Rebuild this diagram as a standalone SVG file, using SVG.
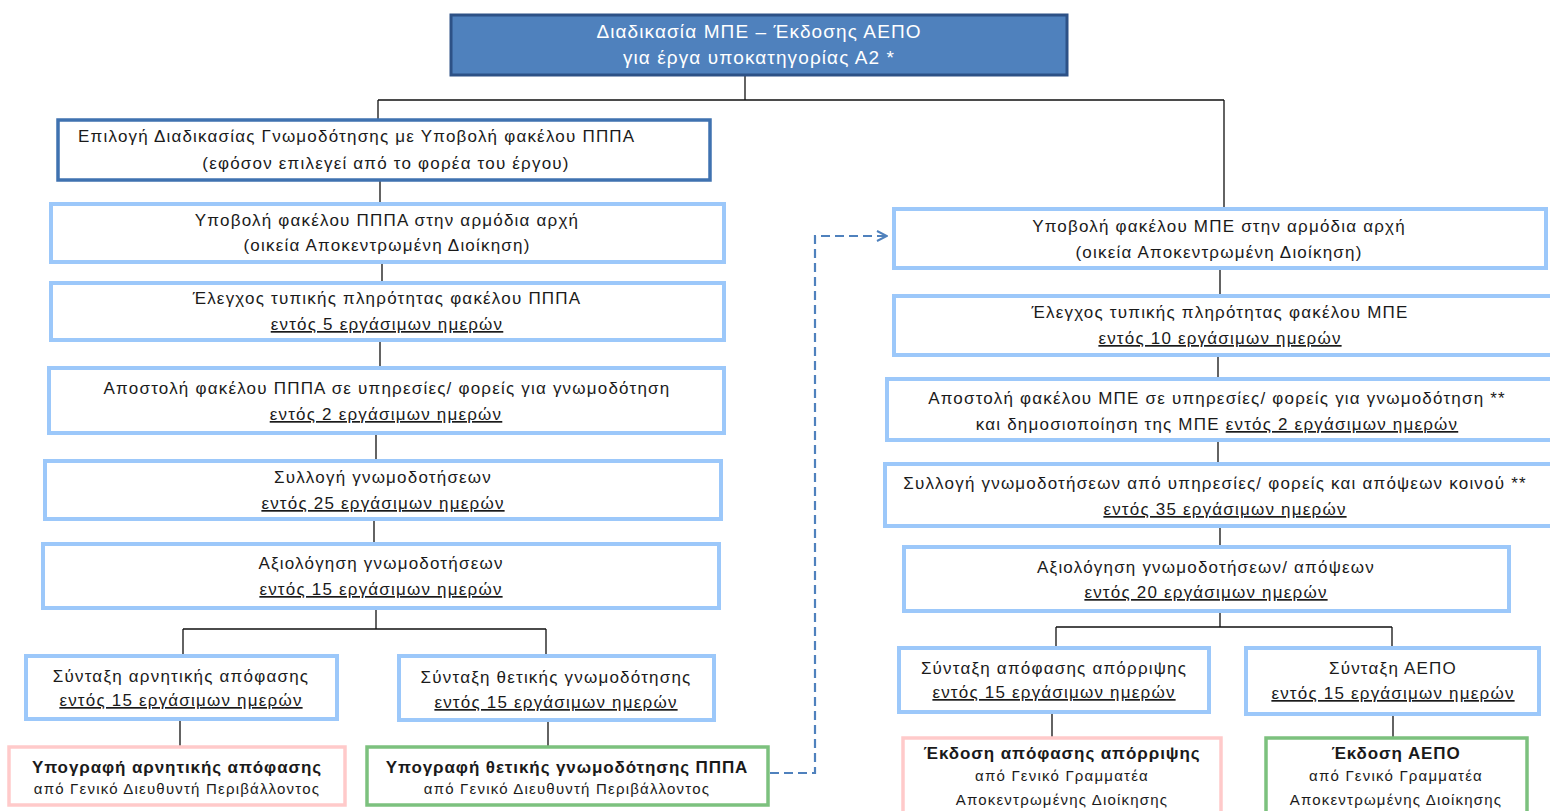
<svg xmlns="http://www.w3.org/2000/svg" width="1550" height="811" viewBox="0 0 1550 811">
<defs>
<style>
text{font-family:"Liberation Sans",Arial,sans-serif;font-size:17px;letter-spacing:1.2px;fill:#1a1a1a;text-anchor:middle}
.t{fill:#fff;font-size:19px;letter-spacing:1.1px}
.u{text-decoration:underline}
.b{font-weight:bold;letter-spacing:0.9px}
.s{font-size:15px;letter-spacing:1.2px}
.n{fill:#fff;stroke:#9cc8fa;stroke-width:4}
.d{fill:#fff;stroke:#3f72b0;stroke-width:3.5}
.p{fill:#fff;stroke:#ffcaca;stroke-width:3.5}
.g{fill:#fff;stroke:#7cc17e;stroke-width:3.5}
.c{fill:none;stroke:#111;stroke-width:1.3}
.dash{fill:none;stroke:#4f81bd;stroke-width:2.2;stroke-dasharray:9 5}
</style>
<marker id="arr" viewBox="0 0 12 12" refX="11" refY="6" markerWidth="12" markerHeight="12" markerUnits="userSpaceOnUse" orient="auto">
<path d="M1,1 L11,6 L1,11" fill="none" stroke="#4f81bd" stroke-width="2"/>
</marker>
</defs>
<rect width="1550" height="811" fill="#fff"/>

<g id="connectors">
<path class="c" d="M745,75V100M378,100H1224M378,100V120M1224,100V208"/>
<path class="c" d="M380,180V204M382,262V282M380,340V367M376,433V460M374,519V543M376,608V629M183,629H546M183,629V655M546,629V655M180,719V746M548,720V746"/>
<path class="c" d="M1220,268V295M1218,355V378M1218,440V463M1220,526V546M1220,611V627M1056,627H1392M1056,627V647M1392,627V647M1052,712V737M1393,714V737"/>
<path class="dash" d="M770,773H815V236H887" marker-end="url(#arr)"/>
</g>

<g id="title">
<rect x="451" y="15" width="616" height="60" fill="#4f81bd" stroke="#2d5186" stroke-width="3"/>
<text class="t" x="759" y="38">Διαδικασία ΜΠΕ – Έκδοσης ΑΕΠΟ</text>
<text class="t" x="759" y="64">για έργα υποκατηγορίας Α2 *</text>
</g>

<g id="l1">
<rect class="d" x="58" y="120" width="652" height="60"/>
<text x="78" y="142" style="text-anchor:start">Επιλογή Διαδικασίας Γνωμοδότησης με Υποβολή φακέλου ΠΠΠΑ</text>
<text x="386" y="169">(εφόσον επιλεγεί από το φορέα του έργου)</text>
</g>
<g id="l2">
<rect class="n" x="51" y="204" width="673" height="58"/>
<text x="387" y="226">Υποβολή φακέλου ΠΠΠΑ στην αρμόδια αρχή</text>
<text x="387" y="251">(οικεία Αποκεντρωμένη Διοίκηση)</text>
</g>
<g id="l3">
<rect class="n" x="51" y="283" width="673" height="57"/>
<text x="387" y="304">Έλεγχος τυπικής πληρότητας φακέλου ΠΠΠΑ</text>
<text x="387" y="330" class="u">εντός 5 εργάσιμων ημερών</text>
</g>
<g id="l4">
<rect class="n" x="49" y="368" width="675" height="65"/>
<text x="387" y="394">Αποστολή φακέλου ΠΠΠΑ σε υπηρεσίες/ φορείς  για γνωμοδότηση</text>
<text x="386" y="420" class="u">εντός 2 εργάσιμων ημερών</text>
</g>
<g id="l5">
<rect class="n" x="45" y="461" width="676" height="58"/>
<text x="383" y="483">Συλλογή γνωμοδοτήσεων</text>
<text x="383" y="509" class="u">εντός 25 εργάσιμων ημερών</text>
</g>
<g id="l6">
<rect class="n" x="43" y="544" width="676" height="64"/>
<text x="381" y="569">Αξιολόγηση γνωμοδοτήσεων</text>
<text x="381" y="595" class="u">εντός 15 εργάσιμων ημερών</text>
</g>
<g id="l7">
<rect class="n" x="26" y="656" width="311" height="63"/>
<text x="181" y="682">Σύνταξη αρνητικής απόφασης</text>
<text x="181" y="706" class="u">εντός 15 εργάσιμων ημερών</text>
</g>
<g id="l8">
<rect class="n" x="399" y="656" width="315" height="64"/>
<text x="556" y="683">Σύνταξη θετικής γνωμοδότησης</text>
<text x="556" y="708" class="u">εντός 15 εργάσιμων ημερών</text>
</g>
<g id="l9">
<rect class="p" x="9" y="747" width="336" height="58"/>
<text x="177" y="773" class="b">Υπογραφή αρνητικής απόφασης</text>
<text x="177" y="794" class="s">από Γενικό Διευθυντή Περιβάλλοντος</text>
</g>
<g id="l10">
<rect class="g" x="367" y="747" width="401" height="58"/>
<text x="567" y="773" class="b">Υπογραφή θετικής γνωμοδότησης ΠΠΠΑ</text>
<text x="567" y="794" class="s">από Γενικό Διευθυντή Περιβάλλοντος</text>
</g>

<g id="r1">
<rect class="n" x="894" y="209" width="652" height="59"/>
<text x="1219" y="232">Υποβολή φακέλου ΜΠΕ στην αρμόδια αρχή</text>
<text x="1219" y="258">(οικεία Αποκεντρωμένη Διοίκηση)</text>
</g>
<g id="r2">
<rect class="n" x="894" y="296" width="660" height="59"/>
<text x="1220" y="318">Έλεγχος τυπικής πληρότητας φακέλου ΜΠΕ</text>
<text x="1220" y="344" class="u">εντός 10 εργάσιμων ημερών</text>
</g>
<g id="r3">
<rect class="n" x="887" y="379" width="667" height="61"/>
<text x="1217" y="404">Αποστολή φακέλου ΜΠΕ σε υπηρεσίες/ φορείς για γνωμοδότηση **</text>
<text x="1217" y="430">και δημοσιοποίηση της ΜΠΕ <tspan class="u">εντός 2 εργάσιμων ημερών</tspan></text>
</g>
<g id="r4">
<rect class="n" x="885" y="464" width="669" height="62"/>
<text x="1215" y="489">Συλλογή γνωμοδοτήσεων από υπηρεσίες/ φορείς και απόψεων κοινού **</text>
<text x="1225" y="515" class="u">εντός 35 εργάσιμων ημερών</text>
</g>
<g id="r5">
<rect class="n" x="904" y="547" width="605" height="64"/>
<text x="1206" y="573">Αξιολόγηση γνωμοδοτήσεων/ απόψεων</text>
<text x="1206" y="598" class="u">εντός 20 εργάσιμων ημερών</text>
</g>
<g id="r6">
<rect class="n" x="899" y="648" width="310" height="64"/>
<text x="1054" y="674">Σύνταξη απόφασης απόρριψης</text>
<text x="1054" y="698" class="u">εντός 15 εργάσιμων ημερών</text>
</g>
<g id="r7">
<rect class="n" x="1246" y="648" width="293" height="66"/>
<text x="1393" y="674">Σύνταξη ΑΕΠΟ</text>
<text x="1393" y="699" class="u">εντός 15 εργάσιμων ημερών</text>
</g>
<g id="r8">
<rect class="p" x="903" y="738" width="318" height="80"/>
<text x="1062" y="759" class="b">Έκδοση απόφασης απόρριψης</text>
<text x="1062" y="781" class="s">από Γενικό Γραμματέα</text>
<text x="1062" y="805" class="s">Αποκεντρωμένης Διοίκησης</text>
</g>
<g id="r9">
<rect class="g" x="1266" y="738" width="261" height="80"/>
<text x="1396" y="759" class="b">Έκδοση ΑΕΠΟ</text>
<text x="1396" y="781" class="s">από Γενικό Γραμματέα</text>
<text x="1396" y="805" class="s">Αποκεντρωμένης Διοίκησης</text>
</g>
</svg>
